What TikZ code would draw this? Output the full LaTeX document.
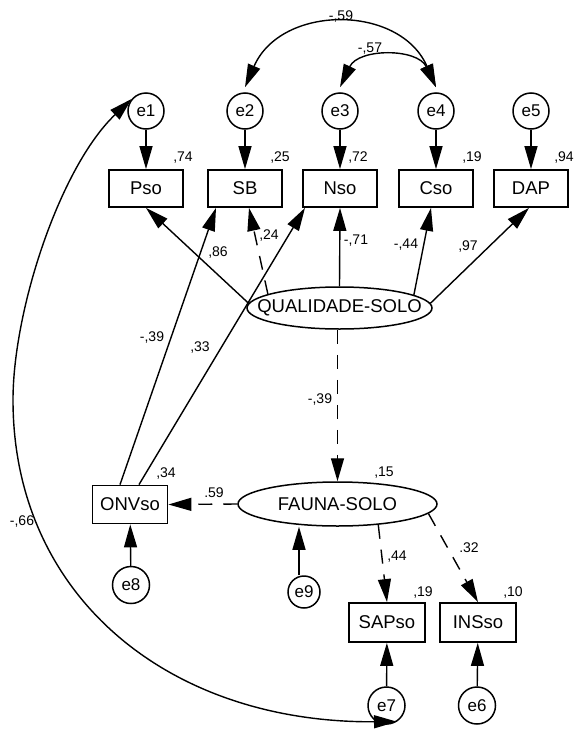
\documentclass[tikz,border=0pt]{standalone}
\usepackage{fontspec}
\setmainfont{Liberation Sans}
\usetikzlibrary{arrows.meta,shapes.geometric,calc}
\begin{document}
\begin{tikzpicture}[x=1pt,y=-1pt,
  box/.style={draw, line width=1.8pt, minimum width=74pt, minimum height=37pt, inner sep=0pt, font=\fontsize{18.5}{20}\selectfont},
  err/.style={draw, circle, line width=1.5pt, minimum size=36pt, inner sep=0pt, font=\fontsize{17}{19}\selectfont},
  lat/.style={draw, ellipse, line width=1.5pt, inner sep=0pt, font=\fontsize{18.5}{20}\selectfont},
  pth/.style={line width=1.4pt, -{Triangle[length=23pt,width=13pt]}},
  dpth/.style={pth, dash pattern=on 14pt off 11pt},
  cov/.style={line width=1.4pt, {Triangle[length=23pt,width=13pt]}-{Triangle[length=23pt,width=13pt]}},
  lab/.style={font=\fontsize{14}{16}\selectfont, anchor=base, inner sep=0pt}
]
\useasboundingbox (0,0) rectangle (575,731);

% error terms (top)
\node[err] (e1) at (146,111) {e1};
\node[err] (e2) at (245,111) {e2};
\node[err] (e3) at (340,111) {e3};
\node[err] (e4) at (436,111) {e4};
\node[err] (e5) at (531,111) {e5};

% indicators (top)
\node[box] (Pso) at (146,188.5) {Pso};
\node[box] (SB)  at (245,188.5) {SB};
\node[box] (Nso) at (340,188.5) {Nso};
\node[box] (Cso) at (436,188.5) {Cso};
\node[box] (DAP) at (531,188.5) {DAP};

% latent variables
\node[lat, minimum width=185pt, minimum height=42pt] (Q) at (339.5,308) {\makebox[0pt]{QUALIDADE-SOLO}};
\node[lat, minimum width=199pt, minimum height=44pt] (F) at (337.5,504) {\makebox[0pt]{FAUNA-SOLO}};

% lower indicators
\node[box, minimum width=75pt, minimum height=38pt] (ONVso) at (130,504.5) {ONVso};
\node[box, minimum width=76pt, minimum height=39pt] (SAPso) at (387,622.5) {SAPso};
\node[box, minimum width=76pt, minimum height=39pt] (INSso) at (478,622.5) {INSso};

% lower error terms
\node[err, minimum size=37pt] (e8) at (131,585) {e8};
\node[err, minimum size=32pt] (e9) at (304,592) {e9};
\node[err, minimum size=37pt] (e7) at (386.5,705.5) {e7};
\node[err, minimum size=37pt] (e6) at (477,705.5) {e6};

% error arrows
\draw[pth] (e1) -- (Pso);
\draw[pth] (e2) -- (SB);
\draw[pth] (e3) -- (Nso);
\draw[pth] (e4) -- (Cso);
\draw[pth] (e5) -- (DAP);
\draw[pth] (e8) -- (ONVso);
\draw[pth] (e7) -- (SAPso);
\draw[pth] (e6) -- (INSso);
\draw[pth] ([xshift=-5pt]e9.north) -- ([xshift=-5pt]e9.north |- F.south);

% QUALIDADE-SOLO loadings
\draw[pth] (Q.177) -- (Pso.south);
\draw[dpth] (Q.169) -- ([xshift=4pt]SB.south);
\draw[pth] (Q.north) -- (Nso.south);
\draw[pth] (Q.10) -- ([xshift=-5pt]Cso.south);
\draw[pth] (Q.3) -- ([xshift=-2pt]DAP.south);
\draw[dpth] (Q.south -| F.north) -- (F.north);

% ONVso paths
\draw[pth] ([xshift=-10pt]ONVso.north) -- ([xshift=-29pt]SB.south);
\draw[pth] ([xshift=9pt]ONVso.north) -- ([xshift=-35pt]Nso.south);

% FAUNA-SOLO loadings
\draw[dpth] (F.west) -- (ONVso.east);
\draw[dpth] (F.-27) -- (SAPso.north);
\draw[dpth] (F.-6) -- (INSso.north);

% covariances
\coordinate (c59a) at (400,4);
\coordinate (c59b) at (281,4);
\coordinate (c57a) at (417.5,48);
\coordinate (c57b) at (358.5,48);
\draw[cov] ([yshift=5pt]e4.north) .. controls (c59a) and (c59b) .. ([yshift=5pt]e2.north);
\draw[cov] ([yshift=5pt]e4.north) .. controls (c57a) and (c57b) .. ([yshift=5pt]e3.north);

\coordinate (m66) at (13,400);
\coordinate (c66a) at (60,167);
\coordinate (c66b) at (13,310);
\coordinate (c66c) at (13,594);
\coordinate (c66d) at (166,723);
\draw[cov] (e1.140) .. controls (c66a) and (c66b) .. (m66) .. controls (c66c) and (c66d) .. (e7.-57);

% labels
\node[lab] (l1) at (183,161) {,74};
\node[lab] (l2) at (280,161) {,25};
\node[lab] (l3) at (358,161) {,72};
\node[lab] (l4) at (472,161) {,19};
\node[lab] (l5) at (564,161) {,94};
\node[lab] (l6) at (341,20) {-,59};
\node[lab] (l7) at (370,52) {-,57};
\node[lab] (l8) at (218,256) {,86};
\node[lab] (l9) at (269,239) {,24};
\node[lab] (l10) at (356,244) {-,71};
\node[lab] (l11) at (406,248) {-,44};
\node[lab] (l12) at (468,250) {,97};
\node[lab] (l13) at (152,341) {-,39};
\node[lab] (l14) at (200,351) {,33};
\node[lab] (l15) at (320,403) {-,39};
\node[lab] (l16) at (166,477) {,34};
\node[lab] (l17) at (214,497) {.59};
\node[lab] (l18) at (384,476) {,15};
\node[lab] (l19) at (22,525) {-,66};
\node[lab] (l20) at (397,560) {,44};
\node[lab] (l21) at (469,552) {.32};
\node[lab] (l22) at (423,596) {,19};
\node[lab] (l23) at (513,596) {,10};
\end{tikzpicture}
\end{document}
